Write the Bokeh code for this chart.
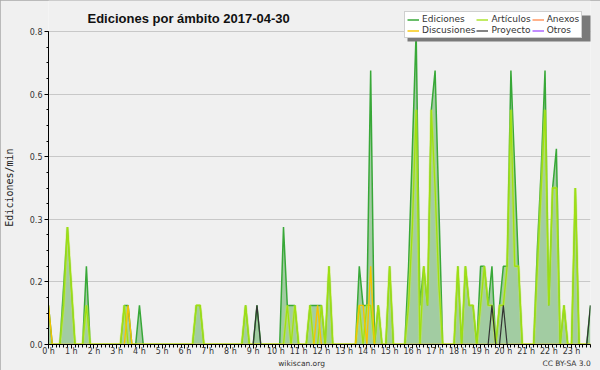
from bokeh.plotting import figure
from bokeh.models import (Range1d, FixedTicker, Legend, LegendItem, Label,
                          BoxAnnotation, ColumnDataSource, LinearAxis)
from bokeh.embed import file_html
from bokeh.resources import INLINE

# ---------------- data ----------------
title_text = "Ediciones por ámbito  2017-04-30"
y_label = "Ediciones/min"
footer_text = "wikiscan.org"
license_text = "CC BY-SA 3.0"
series_names = ["Ediciones", "Artículos", "Anexos", "Discusiones", "Proyecto", "Otros"]

hours = list(range(24))
hour_labels = [f"{h} h" for h in hours]
y_tick_values = [0.0, 0.16, 0.32, 0.48, 0.64, 0.8]
y_tick_labels = ["0.0", "0.2", "0.3", "0.5", "0.6", "0.8"]

# edits per minute, one value per 10-minute slot (6 per hour)
ediciones = [
    0.1, 0, 0, 0, 0.15, 0.3,      # 0 h
    0.15, 0, 0, 0, 0.2, 0,        # 1 h
    0, 0, 0, 0, 0, 0,             # 2 h
    0, 0, 0.1, 0.1, 0, 0,         # 3 h
    0.1, 0, 0, 0, 0, 0,           # 4 h
    0, 0, 0, 0, 0, 0,             # 5 h
    0, 0, 0, 0.1, 0.1, 0,         # 6 h
    0, 0, 0, 0, 0, 0,             # 7 h
    0, 0, 0, 0, 0.1, 0,           # 8 h
    0, 0.1, 0, 0, 0, 0,           # 9 h
    0, 0, 0.3, 0.1, 0.1, 0.1,     # 10 h
    0, 0, 0, 0.1, 0.1, 0.1,       # 11 h
    0.1, 0, 0.2, 0, 0, 0,         # 12 h
    0, 0, 0, 0, 0.2, 0.1,         # 13 h
    0.1, 0.7, 0, 0.1, 0, 0,       # 14 h
    0.2, 0, 0, 0, 0, 0.2,         # 15 h
    0.5, 0.8, 0.1, 0.2, 0.1, 0.6, # 16 h
    0.7, 0.35, 0, 0, 0, 0,        # 17 h
    0.2, 0, 0.2, 0.1, 0.1, 0,     # 18 h
    0.2, 0.2, 0.1, 0.2, 0, 0.1,   # 19 h
    0.2, 0.2, 0.7, 0.45, 0.2, 0,  # 20 h
    0, 0, 0, 0.25, 0.45, 0.7,     # 21 h
    0.1, 0.4, 0.5, 0, 0.1, 0,     # 22 h
    0, 0.4, 0, 0, 0, 0.1,         # 23 h
]
articulos = [
    0, 0, 0, 0, 0.1, 0.3,
    0.15, 0, 0, 0, 0.1, 0,
    0, 0, 0, 0, 0, 0,
    0, 0, 0.1, 0, 0, 0,
    0, 0, 0, 0, 0, 0,
    0, 0, 0, 0, 0, 0,
    0, 0, 0, 0.1, 0.1, 0,
    0, 0, 0, 0, 0, 0,
    0, 0, 0, 0, 0.1, 0,
    0, 0, 0, 0, 0, 0,
    0, 0, 0, 0.1, 0, 0.1,
    0, 0, 0, 0.1, 0, 0,
    0.1, 0, 0.2, 0, 0, 0,
    0, 0, 0, 0, 0.1, 0,
    0.1, 0.1, 0, 0.1, 0, 0,
    0.2, 0, 0, 0, 0, 0.1,
    0.3, 0.6, 0, 0.2, 0.1, 0.6,
    0.4, 0.15, 0, 0, 0, 0,
    0.2, 0, 0.2, 0.1, 0.1, 0,
    0.1, 0.2, 0.1, 0.1, 0, 0.1,
    0.1, 0.2, 0.6, 0.2, 0.2, 0,
    0, 0, 0, 0.2, 0.4, 0.6,
    0.1, 0.4, 0.4, 0, 0.1, 0,
    0, 0.4, 0, 0, 0, 0,
]
anexos = [0] * 144
discusiones = [
    0.1, 0, 0, 0, 0, 0,
    0, 0, 0, 0, 0, 0,
    0, 0, 0, 0, 0, 0,
    0, 0, 0, 0.1, 0, 0,
    0, 0, 0, 0, 0, 0,
    0, 0, 0, 0, 0, 0,
    0, 0, 0, 0, 0, 0,
    0, 0, 0, 0, 0, 0,
    0, 0, 0, 0, 0, 0,
    0, 0, 0, 0, 0, 0,
    0, 0, 0, 0, 0, 0,
    0, 0, 0, 0, 0, 0.1,
    0, 0, 0, 0, 0, 0,
    0, 0, 0, 0, 0.1, 0.1,
    0, 0.2, 0, 0, 0, 0,
    0, 0, 0, 0, 0, 0,
    0, 0, 0, 0, 0, 0,
    0, 0, 0, 0, 0, 0,
    0, 0, 0, 0, 0, 0,
    0, 0, 0, 0, 0, 0,
    0, 0, 0, 0, 0, 0,
    0, 0, 0, 0, 0, 0,
    0, 0, 0, 0, 0, 0,
    0, 0, 0, 0, 0, 0,
]
proyecto = [
    0, 0, 0, 0, 0, 0,
    0, 0, 0, 0, 0, 0,
    0, 0, 0, 0, 0, 0,
    0, 0, 0, 0, 0, 0,
    0, 0, 0, 0, 0, 0,
    0, 0, 0, 0, 0, 0,
    0, 0, 0, 0, 0, 0,
    0, 0, 0, 0, 0, 0,
    0, 0, 0, 0, 0, 0,
    0, 0.1, 0, 0, 0, 0,
    0, 0, 0, 0, 0, 0,
    0, 0, 0, 0, 0, 0,
    0, 0, 0, 0, 0, 0,
    0, 0, 0, 0, 0, 0,
    0, 0, 0, 0, 0, 0,
    0, 0, 0, 0, 0, 0,
    0, 0, 0, 0, 0, 0,
    0, 0, 0, 0, 0, 0,
    0, 0, 0, 0, 0, 0,
    0, 0, 0, 0.1, 0, 0,
    0.1, 0, 0, 0, 0, 0,
    0, 0, 0, 0, 0, 0,
    0, 0, 0, 0, 0, 0,
    0, 0, 0, 0, 0, 0.1,
]
otros = [0] * 144

slot_hours = [i / 6 for i in range(len(ediciones))]

src = ColumnDataSource(dict(x=slot_hours, ed=ediciones, ar=articulos, an=anexos,
                            di=discusiones, pr=proyecto, ot=otros))

# ---------------- layout (pixels) ----------------
W, H = 600, 370
FRAME_L, FRAME_R, FRAME_B = 46, 10, 26      # borders around the plotting frame
AXIS_TOP_PX = 31                             # where the 0.8 line sits
frame_h = H - FRAME_B
frame_w = W - FRAME_L - FRAME_R
y_max = y_tick_values[-1]
y_top = y_max * frame_h / (frame_h - AXIS_TOP_PX)   # frame reaches the top edge
px_per_hour = frame_w / slot_hours[-1]

BG = "#f0f0f0"
p = figure(width=W, height=H, output_backend="svg", toolbar_location=None,
           x_range=Range1d(0, slot_hours[-1]), y_range=Range1d(0, y_top),
           min_border_left=FRAME_L, min_border_right=FRAME_R, min_border_top=0,
           min_border_bottom=FRAME_B)
p.background_fill_color = BG
p.border_fill_color = BG
p.outline_line_color = None
p.styles = {"outline": "1px solid #a9a9a9", "outline-offset": "-1px"}

# series
p.varea(x="x", y1=0, y2="ed", source=src, fill_color="#a2cca2", fill_alpha=1)
r_an = p.line("x", "an", source=src, line_color="#ff7f3f", line_width=1.2)
r_ot = p.line("x", "ot", source=src, line_color="#9a40ff", line_width=1.2)
r_ed = p.line("x", "ed", source=src, line_color="#38a838", line_width=1.5)
p.line("x", "ar", source=src, line_color="#c8f040", line_width=3, line_alpha=0.45)
r_ar = p.line("x", "ar", source=src, line_color="#a0e010", line_width=1.3)
r_di = p.line("x", "di", source=src, line_color="#f7c400", line_width=1.4)
r_pr = p.line("x", "pr", source=src, line_color="#333333", line_width=1.2)

# axes
p.xgrid.visible = False
p.ygrid.grid_line_color = "#c8c8c8"
p.ygrid.grid_line_width = 1

xax = p.xaxis[0]
yax = p.yaxis[0]
xax.ticker = FixedTicker(ticks=hours, minor_ticks=slot_hours)
xax.major_label_overrides = dict(zip(hours, hour_labels))
yax.ticker = FixedTicker(ticks=y_tick_values,
                         minor_ticks=[round(0.04 * k, 2) for k in range(21)])
yax.major_label_overrides = dict(zip(y_tick_values, y_tick_labels))
yax.bounds = (0, y_max)

for ax in (xax, yax):
    ax.axis_line_color = "black"
    ax.axis_line_width = 1
    ax.major_tick_line_color = "black"
    ax.minor_tick_line_color = "black"
    ax.major_tick_in = 0
    ax.minor_tick_in = 0
    ax.major_label_text_font = "DejaVu Sans"
    ax.major_label_text_font_size = "8px"
    ax.major_label_text_color = "#333333"

xax.major_tick_out = 4
xax.minor_tick_out = 3
xax.major_label_standoff = -2
yax.major_tick_out = 4
yax.minor_tick_out = 2
yax.major_label_standoff = 2

# the frame reaches the top edge, so pad the label's upper end (no-break spaces)
# to keep the visible text centred on the 0 - 0.8 axis like the original
yax.axis_label = y_label + "\u00a0" * 5
yax.axis_label_text_font = "DejaVu Sans Mono"
yax.axis_label_text_font_size = "10px"
yax.axis_label_text_font_style = "normal"
yax.axis_label_text_color = "#222222"
yax.axis_label_standoff = 12

# footer line (site name and licence) as a tick-label row below the hour axis
foot_pos = [(300 - FRAME_L) / px_per_hour, (566 - FRAME_L) / px_per_hour]
foot = LinearAxis(ticker=FixedTicker(ticks=foot_pos),
                  major_label_overrides=dict(zip(foot_pos, [footer_text, license_text])),
                  axis_line_color=None, major_tick_line_color=None,
                  minor_tick_line_color=None, major_tick_out=0, major_tick_in=0,
                  major_label_standoff=0, major_label_text_font="DejaVu Sans",
                  major_label_text_font_size="7.5px", major_label_text_color="#333333")
p.add_layout(foot, "below")

# title inside the (extended) frame
p.add_layout(Label(x=85 - FRAME_L, y=frame_h - 18, x_units="screen", y_units="screen",
                   text=title_text, text_font="Liberation Sans", text_font_style="bold",
                   text_font_size="13px", text_color="#111111",
                   text_baseline="alphabetic"))

# legend shadow + legend
LEG_L, LEG_T, LEG_W, LEG_H = 402, 12, 187, 26
p.add_layout(BoxAnnotation(left=LEG_L + 3 - FRAME_L, right=LEG_L + LEG_W + 3 - FRAME_L,
                           top=frame_h - (LEG_T + 3), bottom=frame_h - (LEG_T + LEG_H + 3),
                           left_units="screen", right_units="screen",
                           top_units="screen", bottom_units="screen",
                           fill_color="#7a7a7a", fill_alpha=1, line_color=None))

renderers = [r_ed, r_ar, r_an, r_di, r_pr, r_ot]
legend = Legend(items=[LegendItem(label=n, renderers=[r]) for n, r in zip(series_names, renderers)],
                location=(LEG_L - FRAME_L, frame_h - (LEG_T + LEG_H)),
                orientation="horizontal", ncols=3)
legend.background_fill_color = "white"
legend.background_fill_alpha = 1
legend.border_line_color = "#a0a0a0"
legend.border_line_width = 1
legend.label_text_font = "DejaVu Sans"
legend.label_text_font_size = "9px"
legend.label_text_color = "#333333"
legend.glyph_width = 12
legend.glyph_height = 9
legend.label_height = 9
legend.label_standoff = 3
legend.spacing = 1
legend.padding = 2
legend.margin = 0
p.add_layout(legend, "center")

open("out.html", "w").write(file_html(p, INLINE))
